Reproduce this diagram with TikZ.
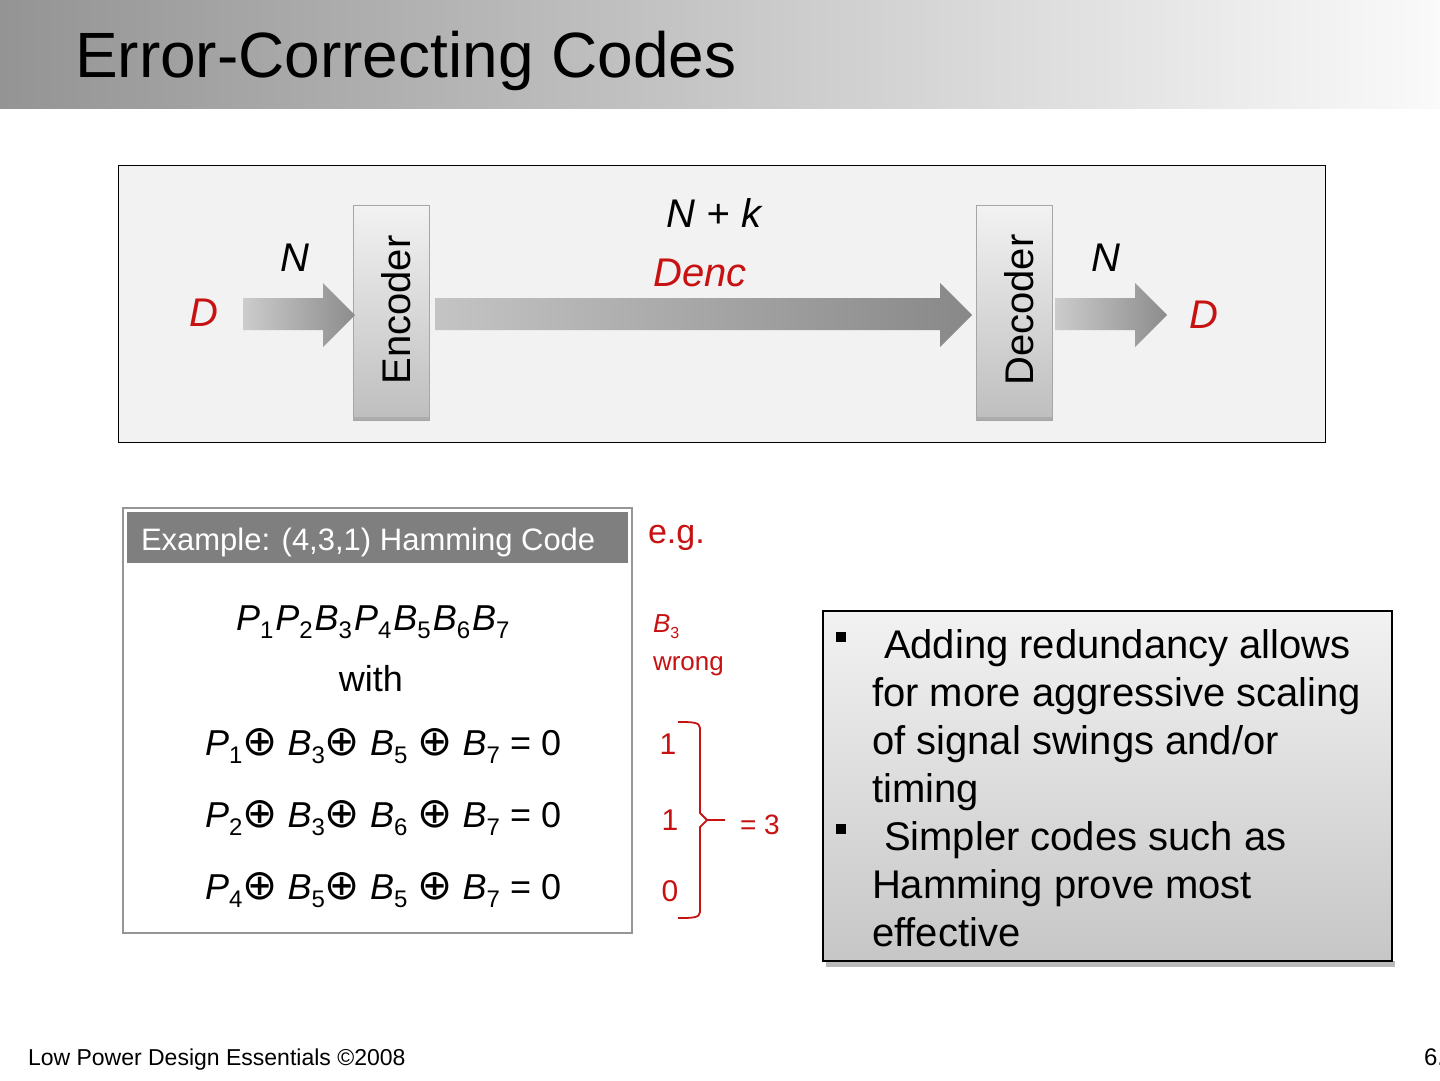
\documentclass[tikz,border=0pt]{standalone}
\usepackage{fontspec}
\usepackage{graphicx}
\setmainfont{Liberation Sans}
\newfontfamily\symfont{DejaVu Sans}
\definecolor{myred}{RGB}{200,18,18}
\definecolor{panelgray}{RGB}{242,242,242}
\definecolor{hdrgray}{RGB}{127,127,127}
\definecolor{framegray}{RGB}{150,150,150}
\definecolor{arrowlight}{RGB}{204,204,204}
\definecolor{arrowdark}{RGB}{140,140,140}
\newcommand\fs[1]{\fontsize{#1}{#1}\selectfont}
\newcommand\sbs[3]{\raisebox{-#2pt}{\fs{#1}#3}}
\newcommand\xo{{\symfont\fs{42}⊕}}
\tikzset{
  lbl/.style={inner sep=0pt, outer sep=0pt},
  blockbox/.style={draw=gray!70, line width=0.8pt, top color=panelgray, bottom color={rgb,255:red,190;green,190;blue,190},
     minimum width=76pt, minimum height=215pt, inner sep=0pt},
  fatarrow/.style={left color=arrowlight, right color=arrowdark},
  redtxt/.style={lbl, text=myred},
}
\begin{document}
\begin{tikzpicture}[x=1pt,y=-1pt]
\useasboundingbox (0,0) rectangle (1440,1080);
\fill[white] (0,0) rectangle (1440,1080);
% title bar
\shade[left color={rgb,255:red,148;green,148;blue,148}, right color={rgb,255:red,250;green,250;blue,250}] (0,0) rectangle (1440,108);
\node[lbl, anchor=base west, font=\fs{64}] (title) at (75,77.5) {Error-Correcting Codes};

% top panel
\draw[fill=panelgray, line width=1pt] (118,165) rectangle (1325,442);
\node[blockbox] (enc) at (391,312.5) {};
\node[blockbox] (dec) at (1014,312.5) {};
\fill[gray!65] (enc.south west) rectangle ([yshift=3pt]enc.south east);
\fill[gray!65] (dec.south west) rectangle ([yshift=3pt]dec.south east);
\node[lbl, rotate=90, font=\fs{40}] (enctxt) at (396,310) {Encoder};
\node[lbl, rotate=90, font=\fs{40}] (dectxt) at (1019,310) {Decoder};

\shade[fatarrow] (243,298) -- (323,298) -- (323,283) -- (355,315) -- (323,347) -- (323,330) -- (243,330) -- cycle;
\shade[left color={rgb,255:red,196;green,196;blue,196}, right color={rgb,255:red,136;green,136;blue,136}] (435,298) -- (940,298) -- (940,283) -- (972,315) -- (940,347) -- (940,330) -- (435,330) -- cycle;
\shade[fatarrow] (1055,298) -- (1135,298) -- (1135,283) -- (1167,315) -- (1135,347) -- (1135,330) -- (1055,330) -- cycle;

\node[lbl, font=\fs{40}\itshape] (nk) at (714,213) {N + k};
\node[redtxt, font=\fs{40}\itshape] (denc) at (700,273) {Denc};
\node[lbl, font=\fs{40}\itshape] (nin) at (295,258) {N};
\node[lbl, font=\fs{40}\itshape] (nout) at (1106,258) {N};
\node[redtxt, font=\fs{40}\itshape] (din) at (204,313) {D};
\node[redtxt, font=\fs{40}\itshape] (dout) at (1204,315) {D};

% Hamming example box
\draw[draw=framegray, line width=2.5pt, fill=white] (123,508) rectangle (632,933);
\fill[hdrgray] (127,512) rectangle (628,563);
\node[lbl, anchor=base west, text=white, font=\fs{31}] (hdr) at (141,550) {Example: (4,3,1) Hamming Code};
\node[lbl, anchor=base west, font=\fs{36}] (word) at (236,630)
  {\textit{P}\sbs{24}{8}{1}\kern2pt\textit{P}\sbs{24}{8}{2}\kern2pt\textit{B}\sbs{24}{8}{3}\kern2pt\textit{P}\sbs{24}{8}{4}\kern2pt\textit{B}\sbs{24}{8}{5}\kern2pt\textit{B}\sbs{24}{8}{6}\kern2pt\textit{B}\sbs{24}{8}{7}};
\node[lbl, anchor=base, font=\fs{36}] (with) at (371,691) {with};
\node[lbl, anchor=base west, font=\fs{36}] (eq1) at (205,755)
  {\textit{P}\sbs{24}{8}{1}\xo{} \textit{B}\sbs{24}{8}{3}\xo{} \textit{B}\sbs{24}{8}{5} \xo{} \textit{B}\sbs{24}{8}{7} = 0};
\node[lbl, anchor=base west, font=\fs{36}] (eq2) at (205,827)
  {\textit{P}\sbs{24}{8}{2}\xo{} \textit{B}\sbs{24}{8}{3}\xo{} \textit{B}\sbs{24}{8}{6} \xo{} \textit{B}\sbs{24}{8}{7} = 0};
\node[lbl, anchor=base west, font=\fs{36}] (eq3) at (205,899)
  {\textit{P}\sbs{24}{8}{4}\xo{} \textit{B}\sbs{24}{8}{5}\xo{} \textit{B}\sbs{24}{8}{5} \xo{} \textit{B}\sbs{24}{8}{7} = 0};

% e.g. annotation
\node[redtxt, anchor=base west, font=\fs{34}] (eg) at (648,543) {e.g.};
\node[redtxt, anchor=base west, font=\fs{26}] (b3) at (653,632) {\textit{B}\sbs{16}{6}{3}};
\node[redtxt, anchor=base west, font=\fs{26}] (wrong) at (653,670) {wrong};
\node[redtxt, anchor=base, font=\fs{30}] (s1) at (668,754) {1};
\node[redtxt, anchor=base, font=\fs{30}] (s2) at (670,830) {1};
\node[redtxt, anchor=base, font=\fs{30}] (s3) at (670,901) {0};
\node[redtxt, anchor=base west, font=\fs{28}] (eq3res) at (740,834) {= 3};
\coordinate (brtip) at (725,820);
\draw[myred, line width=1.8pt, line join=round]
  (678,722) .. controls (692,722) and (700,722) .. (700,728) -- (700,813) -- (707,820) -- (brtip);
\draw[myred, line width=1.8pt, line join=round]
  (707,820) -- (700,827) -- (700,912) .. controls (700,918) and (692,918) .. (678,918);

% bullet box
\fill[gray!55] (826,961) rectangle (1395,967);
\shade[top color=panelgray, bottom color={rgb,255:red,198;green,198;blue,198}] (823,611) rectangle (1392,961);
\draw[line width=1.5pt] (823,611) rectangle (1392,961);
\fill (836,632) rectangle (846,642);
\fill (836,824) rectangle (846,834);
\node[lbl, anchor=base west, font=\fs{40}] (l1) at (884,658) {Adding redundancy allows};
\node[lbl, anchor=base west, font=\fs{40}] (l2) at (872,706) {for more aggressive scaling};
\node[lbl, anchor=base west, font=\fs{40}] (l3) at (872,754) {of signal swings and/or};
\node[lbl, anchor=base west, font=\fs{40}] (l4) at (872,802) {timing};
\node[lbl, anchor=base west, font=\fs{40}] (l5) at (884,850) {Simpler codes such as};
\node[lbl, anchor=base west, font=\fs{40}] (l6) at (872,898) {Hamming prove most};
\node[lbl, anchor=base west, font=\fs{40}] (l7) at (872,946) {effective};

% footer
\node[lbl, anchor=base west, font=\fs{23}] (foot) at (28,1065) {Low Power Design Essentials ©2008};
\node[lbl, anchor=base west, font=\fs{24}] (pg) at (1424,1065) {6.};
\end{tikzpicture}
\end{document}
